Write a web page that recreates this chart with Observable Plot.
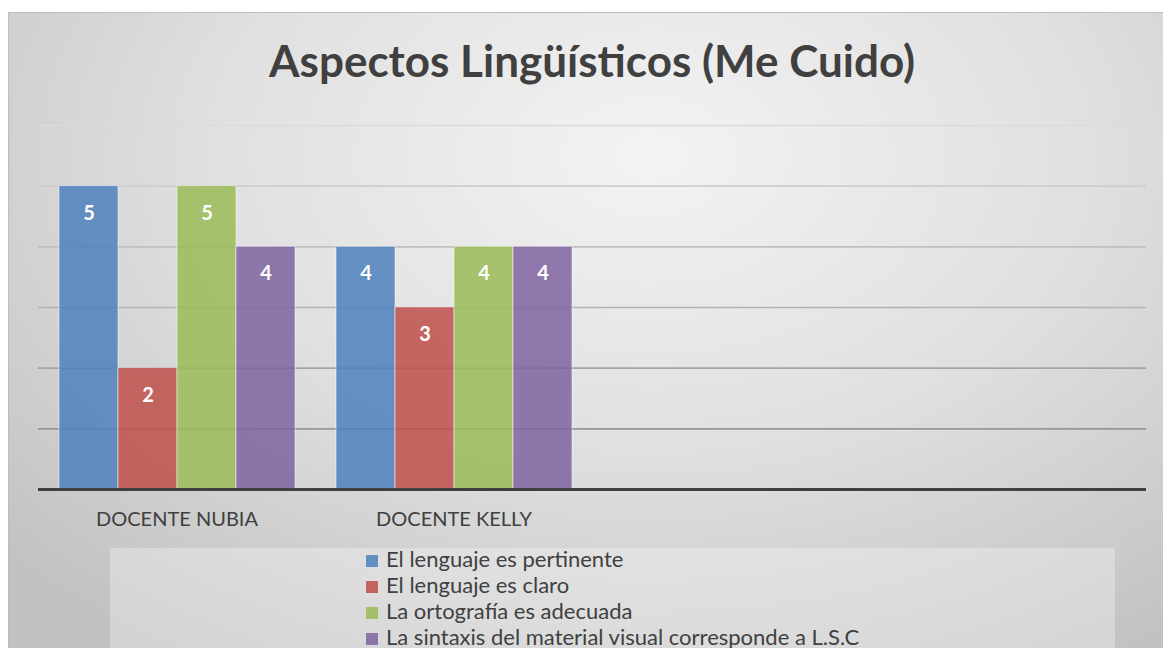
<!DOCTYPE html>
<html>
<head>
<meta charset="utf-8">
<script src="https://cdn.jsdelivr.net/npm/d3@7"></script>
<script src="https://cdn.jsdelivr.net/npm/@observablehq/plot@0.6"></script>
<style>
  html, body { margin: 0; padding: 0; background: #ffffff; }
  body { width: 1163px; height: 648px; position: relative; overflow: hidden; font-family: Lato, "DejaVu Sans", sans-serif; }
  #frame {
    position: absolute; left: 8px; top: 12px; width: 1165px; height: 650px;
    border-top: 1.5px solid #bdbdbd; border-left: 1.5px solid #bdbdbd;
    background: radial-gradient(ellipse 75% 90% at 55% 22%, #f3f3f3 0%, #e0e0e0 50%, #c2c2c2 100%);
  }
  #title {
    position: absolute; left: 38px; width: 1108px; top: 35px; line-height: 50px;
    text-align: center; font-size: 44px; font-weight: bold; color: #404040;
  }
  #chart { position: absolute; left: 0; top: 0; }
  #legendBox {
    position: absolute; left: 110px; top: 548px; width: 1005px; height: 120px;
    background: rgba(255,255,255,0.3);
  }
  #legend { position: absolute; left: 366px; top: 546px; font-size: 22px; color: #404040; }
  #legend .item { height: 26px; line-height: 26px; white-space: nowrap; }
  #legend .sw { display: inline-block; width: 12px; height: 12px; margin-right: 8px; }
</style>
</head>
<body>
<div id="frame"></div>
<div id="title"></div>
<div id="chart"></div>
<div id="legendBox"></div>
<div id="legend"></div>
<script>
const titulo = "Aspectos Lingüísticos (Me Cuido)";
const docentes = ["DOCENTE NUBIA", "DOCENTE KELLY", " ", "  "];
const aspectos = [
  "El lenguaje es pertinente",
  "El lenguaje es claro",
  "La ortografía es adecuada",
  "La sintaxis del material visual corresponde a L.S.C"
];
const valoresNubia = [5, 2, 5, 4];
const valoresKelly = [4, 3, 4, 4];
const colores = ["#4F81BD", "#C0504D", "#9BBB59", "#8064A2"];
const yTicks = [1, 2, 3, 4, 5, 6];

const datos = [];
aspectos.forEach((a, i) => {
  datos.push({docente: docentes[0], aspecto: a, valor: valoresNubia[i]});
  datos.push({docente: docentes[1], aspecto: a, valor: valoresKelly[i]});
});
// grid and baseline rows for every category (so empty categories are drawn too)
const rejilla = docentes.flatMap(d => yTicks.map(v => ({docente: d, v})));
const base = docentes.map(d => ({docente: d, v: 0}));

document.getElementById("title").textContent = titulo;

const plot = Plot.plot({
  width: 1163,
  height: 540,
  marginLeft: 38,
  marginRight: 17,
  marginTop: 125,
  marginBottom: 51,
  style: {background: "transparent", fontFamily: "Lato, sans-serif", fontSize: "20px", color: "#404040", overflow: "visible"},
  fx: {domain: docentes, padding: 0, label: null, axis: "bottom", tickSize: 0, tickPadding: 22, tickFormat: d => d.trim()},
  x: {domain: aspectos, paddingInner: 0, paddingOuter: 0.33, axis: null},
  y: {domain: [0, 6], axis: null},
  color: {domain: aspectos, range: colores},
  marks: [
    Plot.ruleY(rejilla, {fx: "docente", y: "v", stroke: "url(#gridGrad)", strokeWidth: 1.6}),
    Plot.barY(datos, {fx: "docente", x: "aspecto", y: "valor", fill: "aspecto", fillOpacity: 0.86, stroke: "#ffffff", strokeOpacity: 0.5, strokeWidth: 1}),
    Plot.text(datos, {fx: "docente", x: "aspecto", y: "valor", text: d => String(d.valor), dy: 27, fill: "#ffffff", fontWeight: "bold", fontSize: 20}),
    Plot.ruleY(base, {fx: "docente", y: "v", stroke: "#404040", strokeWidth: 3})
  ]
});
plot.insertAdjacentHTML("afterbegin",
  '<defs><linearGradient id="gridGrad" gradientUnits="userSpaceOnUse" x1="0" y1="120" x2="0" y2="432">' +
  '<stop offset="0" stop-color="#dcdcdc"/><stop offset="1" stop-color="#969696"/></linearGradient></defs>');
document.getElementById("chart").appendChild(plot);

const legend = document.getElementById("legend");
aspectos.forEach((a, i) => {
  const row = document.createElement("div");
  row.className = "item";
  const sw = document.createElement("span");
  sw.className = "sw";
  sw.style.background = colores[i];
  sw.style.opacity = 0.86;
  row.appendChild(sw);
  row.appendChild(document.createTextNode(a));
  legend.appendChild(row);
});
</script>
</body>
</html>
